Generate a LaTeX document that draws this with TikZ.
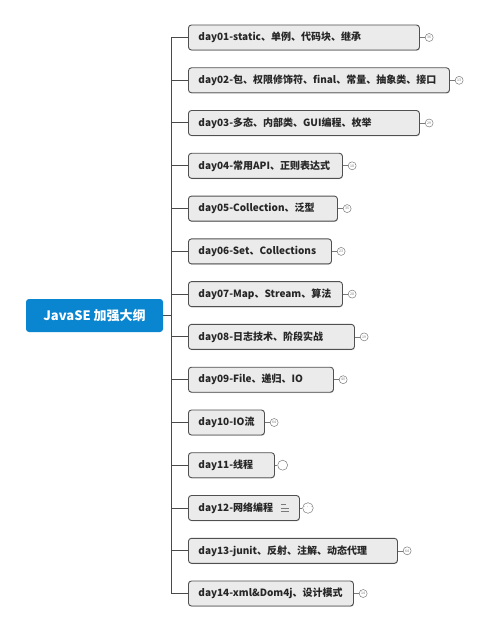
\documentclass[tikz,border=0pt]{standalone}
\usepackage{fontspec}
\setmainfont{Noto Sans CJK SC}
\usetikzlibrary{shadows,positioning}
\definecolor{rootblue}{HTML}{0A85CF}
\definecolor{boxfill}{HTML}{EBEBEB}
\definecolor{boxline}{HTML}{505050}
\definecolor{linkc}{HTML}{4A4A4A}
\definecolor{badgec}{HTML}{7A7A7A}
\begin{document}
\begin{tikzpicture}[x=1pt,y=-1pt,
  topic/.style={draw=boxline, fill=boxfill, line width=0.9pt, rounded corners=3pt,
    minimum height=25pt, anchor=west, inner xsep=10pt, inner ysep=0pt, align=left,
    text width=#1pt, font=\bfseries\fontsize{10}{12}\selectfont, text=black!85,
    drop shadow={shadow xshift=0.5pt, shadow yshift=-0.8pt, opacity=0.35}},
  roottopic/.style={fill=rootblue, rounded corners=3pt, minimum width=137pt, minimum height=33pt,
    inner sep=0pt, text=white, font=\bfseries\fontsize{13}{15}\selectfont},
  badge/.style={circle, draw=badgec, line width=0.5pt, fill=white, minimum size=#1pt, inner sep=0pt,
    font=\fontsize{3.5}{4}\selectfont, text=badgec},
  link/.style={draw=linkc, line width=1pt},
  sublink/.style={draw=badgec, line width=0.6pt}
]
\useasboundingbox (0,0) rectangle (487,631);
\node[roottopic] (root) at (94.5,315.5) {JavaSE 加强大纲};
\coordinate (trunk) at (171,315.5);
\node[topic=211] (c1)  at (188,37.5)  {\mbox{day01-static、单例、代码块、继承}};
\node[topic=241] (c2)  at (188,80.3)  {\mbox{day02-包、权限修饰符、final、常量、抽象类、接口}};
\node[topic=211] (c3)  at (188,123.0) {\mbox{day03-多态、内部类、GUI编程、枚举}};
\node[topic=134] (c4)  at (188,165.8) {\mbox{day04-常用API、正则表达式}};
\node[topic=129] (c5)  at (188,208.6) {\mbox{day05-Collection、泛型}};
\node[topic=123] (c6)  at (188,251.4) {\mbox{day06-Set、Collections}};
\node[topic=134] (c7)  at (188,294.1) {\mbox{day07-Map、Stream、算法}};
\node[topic=146] (c8)  at (188,336.9) {\mbox{day08-日志技术、阶段实战}};
\node[topic=125] (c9)  at (188,379.7) {\mbox{day09-File、递归、IO}};
\node[topic=56]  (c10) at (188,422.5) {\mbox{day10-IO流}};
\node[topic=66]  (c11) at (188,465.2) {\mbox{day11-线程}};
\node[topic=91]  (c12) at (188,508.0) {\mbox{day12-网络编程}};
\node[topic=189] (c13) at (188,550.8) {\mbox{day13-junit、反射、注解、动态代理}};
\node[topic=145] (c14) at (188,593.5) {\mbox{day14-xml\&Dom4j、设计模式}};
% note icon in day12
\draw[badgec, line width=0.7pt] ([xshift=-19pt,yshift=-3.5pt]c12.east) -- ([xshift=-11pt,yshift=-3.5pt]c12.east);
\draw[badgec, line width=0.7pt] ([xshift=-19pt,yshift=0pt]c12.east) -- ([xshift=-11pt,yshift=0pt]c12.east);
\draw[badgec, line width=0.7pt] ([xshift=-19pt,yshift=3.5pt]c12.east) -- ([xshift=-13.5pt,yshift=3.5pt]c12.east);
% connectors
\foreach \i in {1,...,14} {
  \draw[link] (root.east) -- (trunk) |- (c\i.west);
}
% badges
\node[badge=8, right=5pt of c1]  (n1)  {36};
\node[badge=8, right=5pt of c2]  (n2)  {13};
\node[badge=8, right=5pt of c3]  (n3)  {29};
\node[badge=8, right=5pt of c4]  (n4)  {18};
\node[badge=8, right=5pt of c5]  (n5)  {35};
\node[badge=8, right=5pt of c6]  (n6)  {23};
\node[badge=8, right=5pt of c7]  (n7)  {28};
\node[badge=8, right=5pt of c8]  (n8)  {19};
\node[badge=8, right=5pt of c9]  (n9)  {40};
\node[badge=8, right=5pt of c10] (n10) {64};
\node[badge=10, right=2.5pt of c11] (n11) {};
\node[badge=10, right=2.5pt of c12] (n12) {···};
\node[badge=8, right=5pt of c13] (n13) {64};
\node[badge=8, right=5pt of c14] (n14) {14};
\foreach \i in {1,...,14} {
  \draw[sublink] (c\i.east) -- (n\i.west);
}
\end{tikzpicture}
\end{document}
